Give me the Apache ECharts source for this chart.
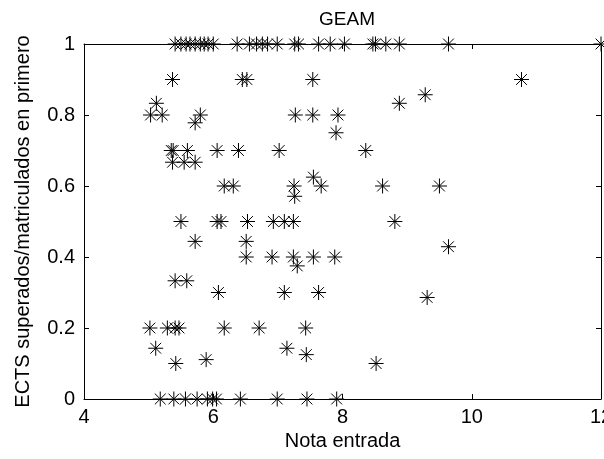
<!DOCTYPE html>
<html>
<head>
<meta charset="utf-8">
<script src="https://cdn.jsdelivr.net/npm/echarts@6/dist/echarts.min.js"></script>
<style>html,body{margin:0;padding:0;background:#fff;}#c{width:604px;height:459px;}</style>
</head>
<body>
<div id="c"></div>
<script>
// Data: Nota entrada (x) vs ECTS superados/matriculados en primero (y)
const notaEntrada = [
  5.41,5.50,5.58,5.64,5.72,5.80,5.86,5.92,6.00,6.37,6.56,6.67,6.76,6.84,6.99,7.26,7.32,7.63,7.81,8.03,8.47,8.51,8.67,8.88,9.64,12.0,
  5.37,6.45,6.52,7.54,10.77,
  9.28,8.88,5.12,
  5.03,5.21,5.80,7.27,7.54,7.93,
  5.72,7.90,
  5.35,5.38,5.60,6.06,6.39,7.02,8.36,
  5.37,5.55,5.72,
  7.55,
  6.17,6.31,7.25,7.67,8.62,9.50,
  7.26,
  5.50,6.06,6.12,6.53,6.93,7.10,7.24,8.81,
  5.72,6.51,9.64,
  6.51,6.91,7.24,7.55,7.88,
  7.30,
  5.41,5.59,
  6.08,7.10,7.63,9.31,
  5.02,5.29,5.41,5.47,6.17,6.71,7.43,
  5.11,7.14,7.44,5.89,5.42,8.52,
  5.18,5.39,5.57,5.75,5.91,5.99,6.05,6.42,6.99,7.45,7.91
];
const ectsRatio = [
  1,1,1,1,1,1,1,1,1,1,1,1,1,1,1,1,1,1,1,1,1,1,1,1,1,1,
  0.9,0.9,0.9,0.9,0.9,
  0.857,0.833,0.833,
  0.8,0.8,0.8,0.8,0.8,0.8,
  0.778,0.75,
  0.7,0.7,0.7,0.7,0.7,0.7,0.7,
  0.667,0.667,0.667,
  0.625,
  0.6,0.6,0.6,0.6,0.6,0.6,
  0.571,
  0.5,0.5,0.5,0.5,0.5,0.5,0.5,0.5,
  0.444,0.444,0.429,
  0.4,0.4,0.4,0.4,0.4,
  0.375,
  0.333,0.333,
  0.3,0.3,0.3,0.286,
  0.2,0.2,0.2,0.2,0.2,0.2,0.2,
  0.143,0.143,0.125,0.111,0.1,0.1,
  0,0,0,0,0,0,0,0,0,0,0
];
const xTicks = { min: 4, max: 12, interval: 2 };
const yTicks = { min: 0, max: 1, interval: 0.2 };
const titleText = 'GEAM';
const xName = 'Nota entrada';
const yName = 'ECTS superados/matriculados en primero';

const points = notaEntrada.map((x, i) => [x, ectsRatio[i]]);
const FONT = 'Liberation Sans, Arial, Helvetica, sans-serif';
const starPath = 'path://M0,-1L0,1M-1,0L1,0M-0.72,-0.72L0.72,0.72M-0.72,0.72L0.72,-0.72';

const lineStyle = { color: '#000', width: 1 };
const chart = echarts.init(document.getElementById('c'), null, { renderer: 'canvas' });
chart.setOption({
  backgroundColor: '#fff',
  animation: false,
  title: {
    text: titleText, left: 342, top: 5, textAlign: 'center',
    textStyle: { fontFamily: FONT, fontSize: 19, fontWeight: 'normal', color: '#000' }
  },
  grid: { left: 84, right: 3, top: 44, bottom: 60, containLabel: false, outerBoundsMode: 'none' },
  xAxis: [
    {
      type: 'value', position: 'bottom', min: xTicks.min, max: xTicks.max, interval: xTicks.interval,
      axisLine: { show: true, onZero: false, lineStyle },
      axisTick: { show: true, inside: true, length: 5, lineStyle },
      axisLabel: { color: '#000', fontFamily: FONT, fontSize: 20, margin: 8, hideOverlap: false },
      splitLine: { show: false },
      name: xName, nameLocation: 'middle', nameGap: 31,
      nameTextStyle: { color: '#000', fontFamily: FONT, fontSize: 20 }
    },
    {
      type: 'value', position: 'top', min: xTicks.min, max: xTicks.max, interval: xTicks.interval,
      axisLine: { show: true, onZero: false, lineStyle },
      axisTick: { show: true, inside: true, length: 5, lineStyle },
      axisLabel: { show: false }, splitLine: { show: false }
    }
  ],
  yAxis: [
    {
      type: 'value', position: 'left', min: yTicks.min, max: yTicks.max, interval: yTicks.interval,
      axisLine: { show: true, onZero: false, lineStyle },
      axisTick: { show: true, inside: true, length: 5, lineStyle },
      axisLabel: { color: '#000', fontFamily: FONT, fontSize: 20, margin: 9 },
      splitLine: { show: false },
      name: yName, nameLocation: 'middle', nameGap: 51,
      nameTextStyle: { color: '#000', fontFamily: FONT, fontSize: 20 }
    },
    {
      type: 'value', position: 'right', min: yTicks.min, max: yTicks.max, interval: yTicks.interval,
      axisLine: { show: true, onZero: false, lineStyle },
      axisTick: { show: true, inside: true, length: 5, lineStyle },
      axisLabel: { show: false }, splitLine: { show: false }
    }
  ],
  series: [{
    type: 'scatter',
    xAxisIndex: 0, yAxisIndex: 0,
    data: points,
    symbol: starPath,
    symbolSize: 15,
    clip: false,
    itemStyle: { color: 'rgba(0,0,0,0)', borderColor: '#000', borderWidth: 1, opacity: 1 }
  }]
});
</script>
</body>
</html>
